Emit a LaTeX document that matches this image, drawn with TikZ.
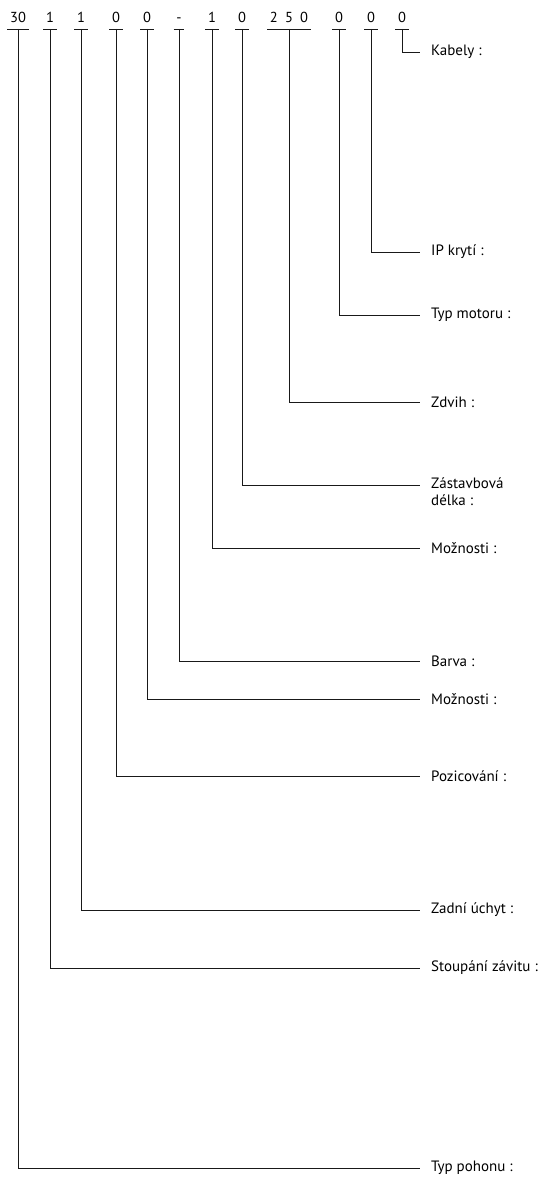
\documentclass[tikz,border=0pt]{standalone}
\usepackage{fontspec}
\setmainfont{PT Sans}
\usetikzlibrary{positioning}
\tikzset{
  code/.style={font=\fontsize{14.5}{17}\selectfont, inner xsep=2.5pt, inner ysep=0pt, anchor=base},
  lab/.style={font=\fontsize{15}{17.5}\selectfont, inner sep=0pt, align=left},
  lead/.style={line width=0.9pt, black!90},
}
\begin{document}
\begin{tikzpicture}[x=1pt,y=-1pt]
  \useasboundingbox (0,0) rectangle (542,1182);
  \coordinate (bar) at (0,29);
  % code digits with their underlines
  \foreach \n/\x/\t in {1/18/30, 2/50/1, 3/81/1, 4/116/0, 5/147/0, 6/179/-,
      7/212/1, 8/242/0, 9/289/{2\enspace 5\enspace 0}, 10/339/0, 11/371/0, 12/402/0} {
    \node[code] (d\n) at (\x,23) {\t};
    \draw[lead] (d\n.west |- bar) -- (d\n.east |- bar);
  }
  % leads and labels
  \foreach \n/\y/\t in {1/1168/{Typ pohonu :}, 2/968/{Stoupání závitu :},
      3/910/{Zadní úchyt :}, 4/776/{Pozicování :}, 5/699/{Možnosti :},
      6/661/{Barva :}, 7/548/{Možnosti :}, 9/402/{Zdvih :},
      10/315/{Typ motoru :}, 11/252/{IP krytí :}, 12/52/{Kabely :}} {
    \coordinate (e\n) at (420,\y);
    \node[lab, right=11pt of e\n] (l\n) {\t};
    \draw[lead] (d\n.center |- bar) |- (e\n);
  }
  \coordinate (e8) at (420,485);
  \node[lab, right=11pt of e8, anchor=north west, yshift=8pt] (l8) {Zástavbová\\délka :};
  \draw[lead] (d8.center |- bar) |- (e8);
\end{tikzpicture}
\end{document}
